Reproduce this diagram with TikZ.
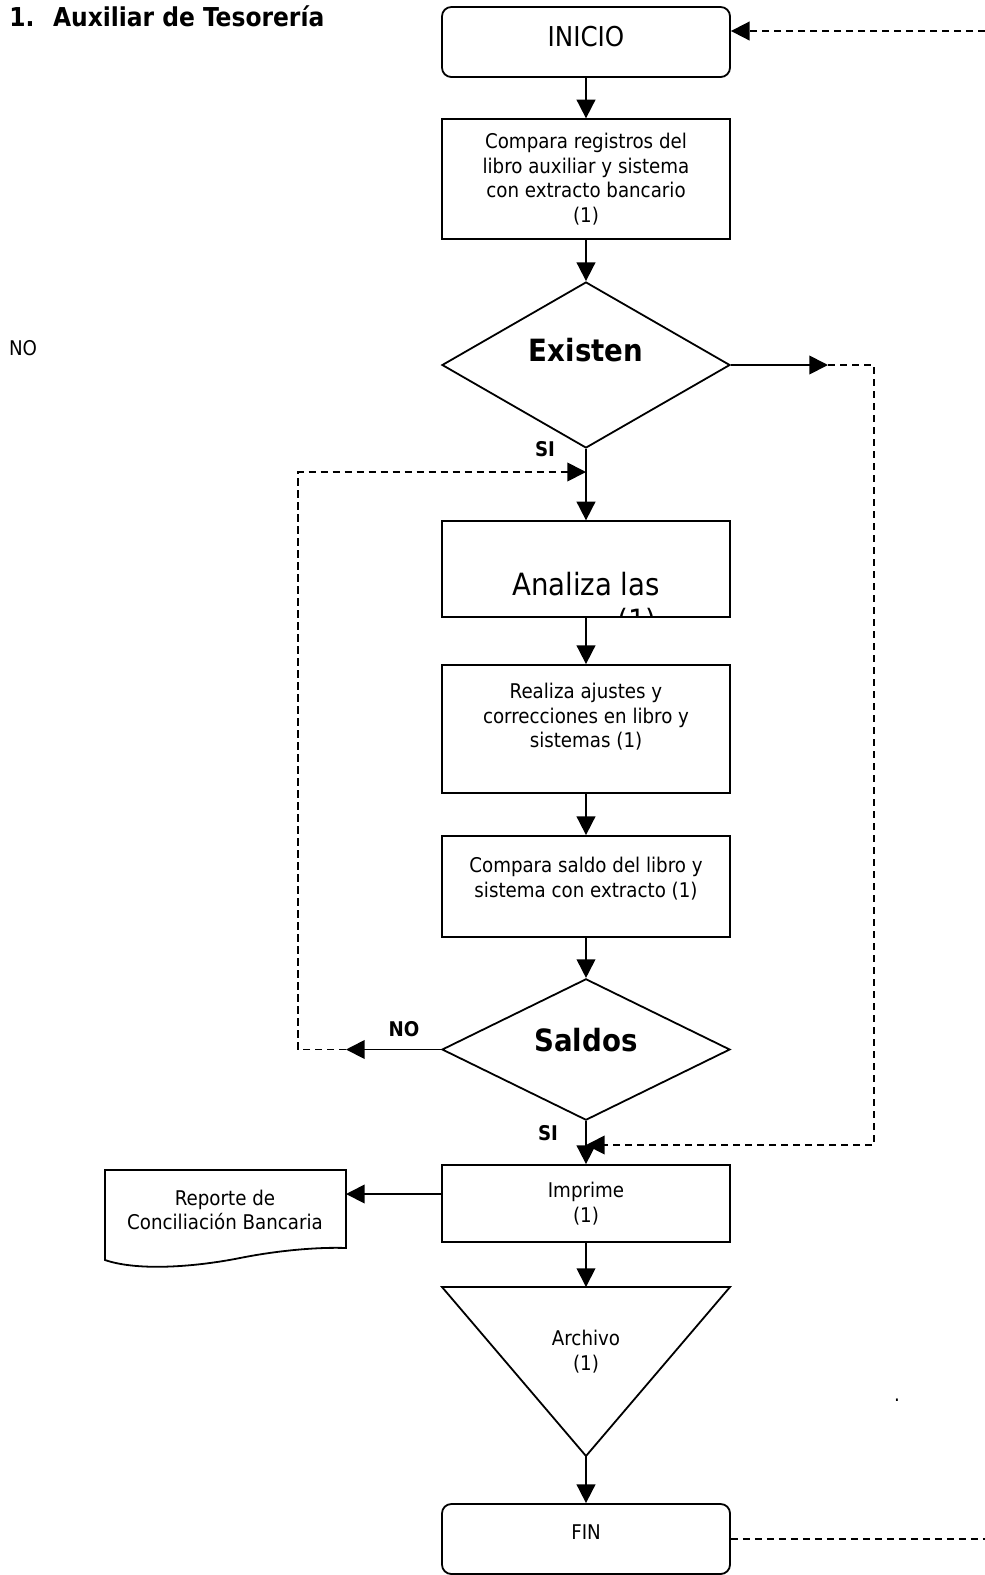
\documentclass[tikz,border=0pt]{standalone}
\usepackage{fontspec}
\setmainfont{DejaVu Sans Condensed}
\usetikzlibrary{arrows.meta,shapes.geometric,calc}
\newcommand\fbody{\fontsize{15.2}{18.4}\selectfont}
\newcommand\fbig{\fontsize{23}{28}\selectfont}
\newcommand\fini{\fontsize{20.5}{24}\selectfont}
\newcommand\ftitle{\fontsize{19.5}{23}\selectfont\bfseries}
\tikzset{
  lw/.style={line width=1.35pt},
  arr/.style={line width=1.35pt,-{Triangle[length=14pt,width=14pt]}},
  dl/.style={line width=1.35pt,dash pattern=on 5.5pt off 3.5pt},
  dlarr/.style={dl,-{Triangle[length=14pt,width=14pt]}},
  procbox/.style={draw,line width=1.35pt,minimum width=216pt,inner sep=0pt,align=center,font=\fbody},
  termbox/.style={procbox,rounded corners=7pt},
  dia/.style={draw,diamond,line width=1.35pt,minimum width=216pt,inner sep=0pt},
  txt/.style={align=center,font=\fbody,inner sep=0pt},
  bigb/.style={font=\fbig\bfseries,inner sep=0pt},
  bigr/.style={font=\fbig,inner sep=0pt},
  lab/.style={font=\fbody\bfseries,inner sep=0pt}
}
\begin{document}
\begin{tikzpicture}[x=0.75pt,y=-0.75pt]
\useasboundingbox (0,0) rectangle (985,1575);

% title and loose texts
\node[anchor=base west,font=\ftitle,inner sep=0pt] (title) at (9,26) {1.\hspace{14pt}Auxiliar de Tesorería};
\node[txt] (nol) at (23,348) {NO};
\node[txt] (dot) at (897,1400) {.};

% nodes
\node[termbox,minimum height=52.5pt] (ini) at (586,42) {};
\node[font=\fini,inner sep=0pt] (init) at (586,37) {INICIO};

\node[procbox,minimum height=89.6pt] (b1) at (586,179) {Compara registros del\\libro auxiliar y sistema\\con extracto bancario\\(1)};

\node[dia,minimum height=124.5pt] (d1) at (586,365) {};
\node[bigb] (d1t) at (586,350) {Existen};

\node[procbox,minimum height=71.6pt] (b2) at (586,569) {};
\begin{scope}
  \clip (b2.south west) rectangle (b2.north east);
  \node[bigr,anchor=base] (b2t) at (586,595) {Analiza las};
  \node[bigr,anchor=base] (b2u) at (637,631) {(1)};
\end{scope}

\node[procbox,minimum height=96pt] (b3) at (586,729) {};
\node[txt] (b3t) at (586,717) {Realiza ajustes y\\correcciones en libro y\\sistemas (1)};

\node[procbox,minimum height=75.75pt] (b4) at (586,886.5) {};
\node[txt] (b4t) at (586,878.5) {Compara saldo del libro y\\sistema con extracto (1)};

\node[dia,minimum height=106pt] (d2) at (586,1049.5) {};
\node[bigb] (d2t) at (586,1040) {Saldos};

\node[procbox,minimum height=57.75pt] (b5) at (586,1203.5) {Imprime\\(1)};

% document shape
\draw[lw] (105,1170) -- (346,1170) -- (346,1248)
  .. controls (320,1247) and (280,1250) .. (240,1258)
  .. controls (200,1266) and (140,1272) .. (105,1260) -- cycle;
\node[txt] (doct) at (225,1210) {Reporte de\\Conciliación Bancaria};
\coordinate (doce) at (346,1194);

% merge triangle
\draw[lw] (442,1287) -- (730,1287) -- (586,1456) -- cycle;
\coordinate (tritop) at (586,1287);
\coordinate (tritip) at (586,1456);
\node[txt] (arch) at (586,1351.5) {Archivo\\(1)};

\node[termbox,minimum height=52.5pt] (fin) at (586,1539) {};
\node[txt] (fint) at (586,1532) {FIN};

% coordinates
\coordinate (e1) at (828,365);
\coordinate (e2) at (874,365);
\coordinate (e3) at (874,1145);
\coordinate (j2) at (586,1145);
\coordinate (n1) at (346,1049.5);
\coordinate (n2) at (298,1049.5);
\coordinate (n3) at (298,472);
\coordinate (j1) at (586,472);
\coordinate (tr) at (985,31);
\coordinate (br) at (985,1539);

% connectors
\draw[arr] (ini) -- (b1);
\draw[arr] (b1) -- (d1);
\draw[arr] (d1) -- (b2);
\draw[arr] (b2) -- (b3);
\draw[arr] (b3) -- (b4);
\draw[arr] (b4) -- (d2);
\draw[arr] (d2) -- (b5);
\draw[arr] (b5) -- (tritop);
\draw[arr] (tritip) -- (fin);
\draw[arr] (b5.west |- doce) -- (doce);
\draw[arr] (d1.east) -- (e1);
\draw[dlarr] (e1) -- (e2) -- (e3) -- (j2);
\draw[arr] (d2.west) -- (n1);
\draw[dlarr] (n1) -- (n2) -- (n3) -- (j1);
\draw[dlarr] (tr) -- (ini.east |- tr);
\draw[dl] (fin.east) -- (br);

% labels
\node[lab] (si1) at (545,449) {SI};
\node[lab] (si2) at (548,1133) {SI};
\node[lab] (no2) at (404,1029) {NO};
\end{tikzpicture}
\end{document}
